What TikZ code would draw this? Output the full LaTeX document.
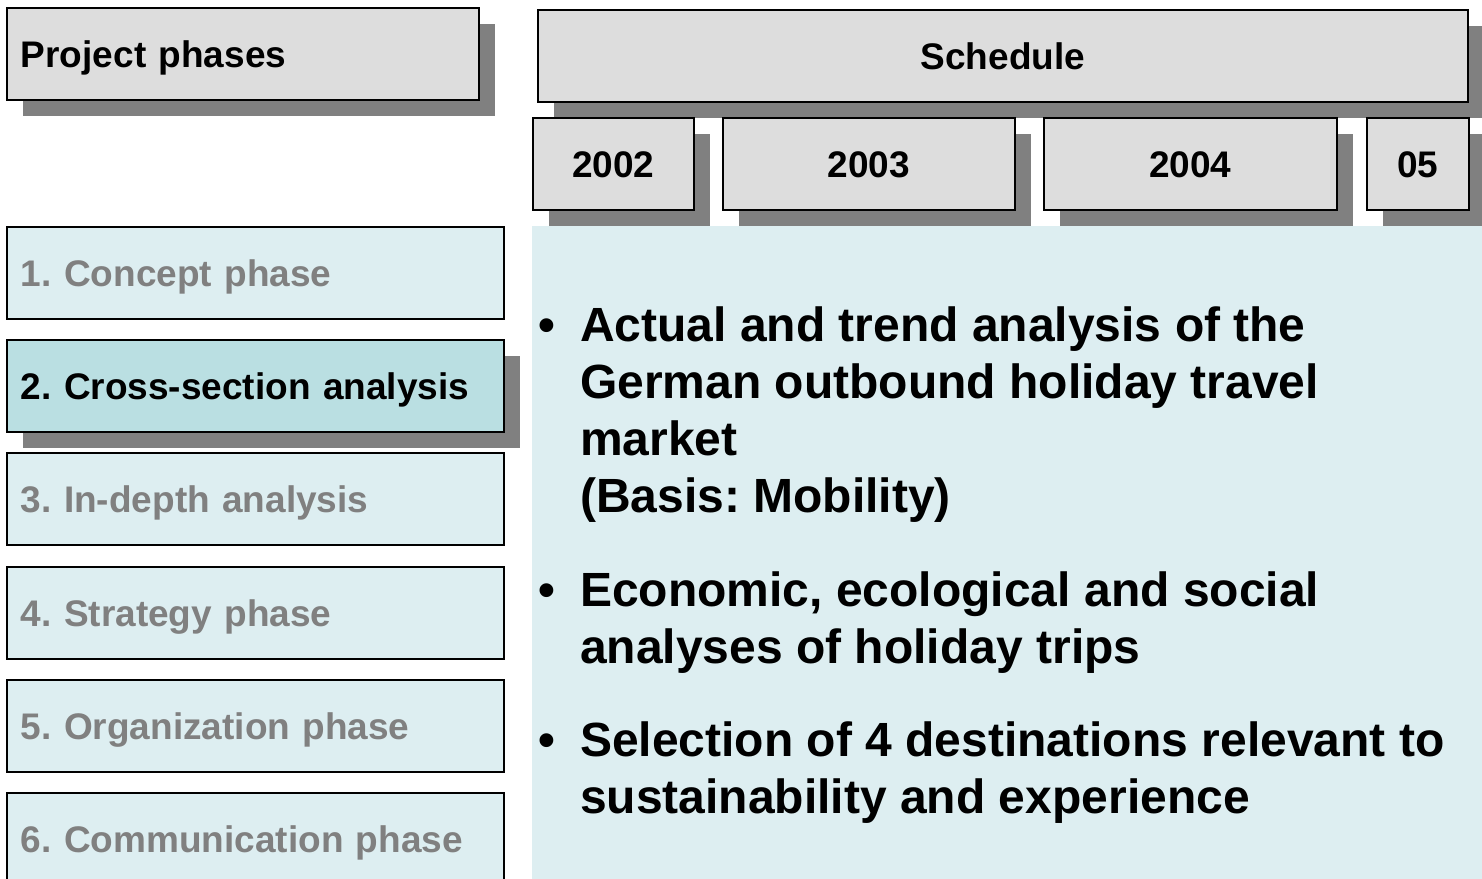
\documentclass[tikz,border=0pt]{standalone}
\usepackage{fontspec}
\setmainfont{Liberation Sans}
\usetikzlibrary{shadows}
\definecolor{boxgray}{RGB}{221,221,221}
\definecolor{shgray}{RGB}{128,128,128}
\definecolor{lblue}{RGB}{221,238,241}
\definecolor{selblue}{RGB}{186,223,226}
\definecolor{txtgray}{RGB}{128,128,128}
\begin{document}
\frenchspacing
\begin{tikzpicture}[x=1pt,y=-1pt,
  base/.style={draw=black, line width=1.8pt, anchor=north west, inner ysep=0pt,
    font=\fontsize{37}{44}\selectfont\bfseries\frenchspacing, text height=26.5pt, text depth=0pt,
    minimum height=92pt},
  shad/.style={general shadow={fill=shgray, shadow xshift=16pt, shadow yshift=-16pt}},
  hdr/.style={base, fill=boxgray, shad, inner xsep=0pt},
  hdrleft/.style={base, fill=boxgray, shad, inner xsep=14pt, text width=#1-28pt, align=left, minimum width=#1},
  phase/.style={base, fill=lblue, inner xsep=14pt, text width=469pt, align=left, minimum width=497pt, text=txtgray},
  selphase/.style={phase, fill=selblue, text=black, shad},
  bul/.style={anchor=base west, inner sep=0pt, font=\fontsize{48}{57.5}\selectfont\bfseries\frenchspacing}
]
\clip (0,0) rectangle (1482,878);
\fill[white] (0,0) rectangle (1482,878);
% content area
\node[fill=lblue, anchor=north west, inner sep=0pt, minimum width=960pt, minimum height=660pt] (content) at (532,226) {};
% headers
\node[hdrleft=472pt] (pp) at (6,7) {Project phases};
\node[hdr, minimum width=930pt] (sched) at (537,9) {Schedule};
\node[hdr, minimum width=161pt] (y2) at (532,117) {2002};
\node[hdr, minimum width=292pt] (y3) at (722,117) {2003};
\node[hdr, minimum width=293pt] (y4) at (1043,117) {2004};
\node[hdr, minimum width=102pt] (y5) at (1366,117) {05};
% phases
\node[phase] (p1) at (6,226) {1. Concept phase};
\node[selphase] (p2) at (6,339) {2. Cross-section analysis};
\node[phase] (p3) at (6,452) {3. In-depth analysis};
\node[phase] (p4) at (6,566) {4. Strategy phase};
\node[phase] (p5) at (6,679) {5. Organization phase};
\node[phase] (p6) at (6,792) {6. Communication phase};
% bullets
\node[bul] (d1) at (538,341) {•};
\node[bul] (b1a) at (580,341) {Actual and trend analysis of the};
\node[bul] (b1b) at (580,398) {German outbound holiday travel};
\node[bul] (b1c) at (580,455) {market};
\node[bul] (b1d) at (580,512) {(Basis: Mobility)};
\node[bul] (d2) at (538,606) {•};
\node[bul] (b2a) at (580,606) {Economic, ecological and social};
\node[bul] (b2b) at (580,663) {analyses of holiday trips};
\node[bul] (d3) at (538,756) {•};
\node[bul] (b3a) at (580,756) {Selection of 4 destinations relevant to};
\node[bul] (b3b) at (580,813) {sustainability and experience};
\end{tikzpicture}
\end{document}
